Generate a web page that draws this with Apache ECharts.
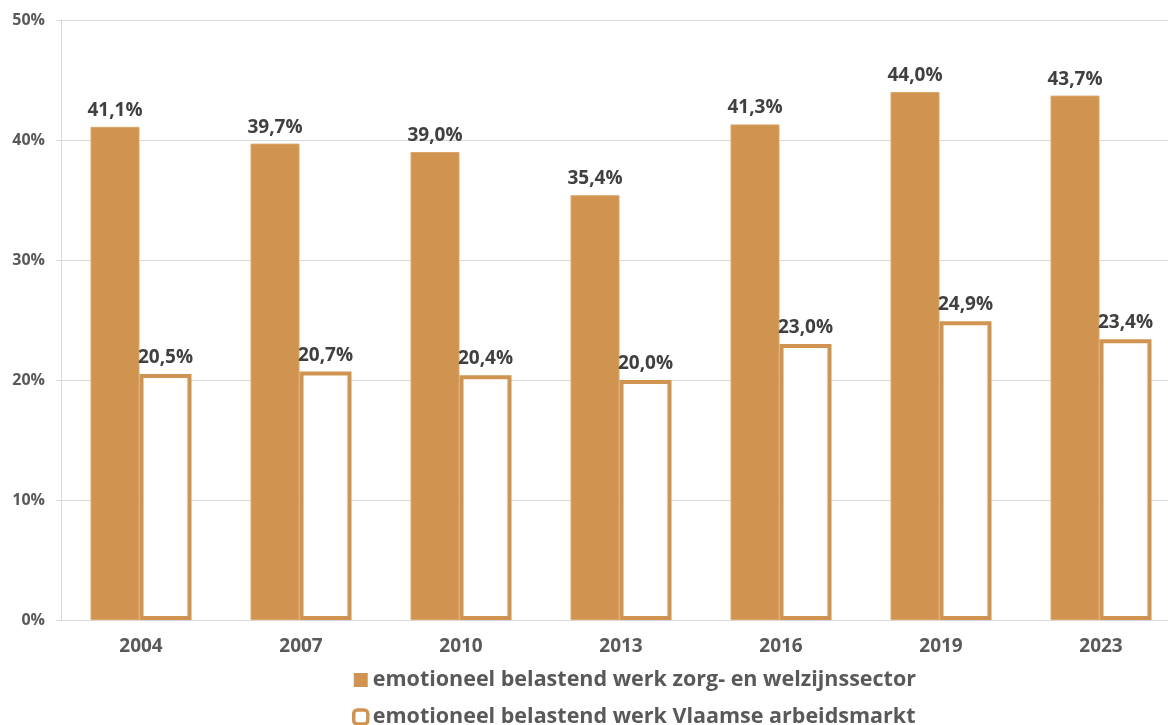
<!DOCTYPE html>
<html>
<head>
<meta charset="utf-8">
<script src="https://cdn.jsdelivr.net/npm/echarts@6/dist/echarts.min.js"></script>
<style>
html,body{margin:0;padding:0;background:#fff;overflow:hidden;width:1168px;height:725px;}
#chart{width:1200px;height:725px;}
</style>
</head>
<body>
<div id="chart"></div>
<script>
const categories = ['2004','2007','2010','2013','2016','2019','2023'];
const zorgWelzijn = [41.1, 39.7, 39.0, 35.4, 41.3, 44.0, 43.7];
const vlaamseArbeidsmarkt = [20.5, 20.7, 20.4, 20.0, 23.0, 24.9, 23.4];
const seriesNames = ['emotioneel belastend werk zorg- en welzijnssector', 'emotioneel belastend werk Vlaamse arbeidsmarkt'];

const fmt = p => p.value.toFixed(1).replace('.', ',') + '%';
const col = '#D19450';
const chart = echarts.init(document.getElementById('chart'));
chart.setOption({
  animation: false,
  textStyle: { fontFamily: 'Open Sans' },
  grid: { left: 61, right: 19, top: 20, height: 600, containLabel: false },
  legend: {
    orient: 'vertical',
    left: 347,
    top: 664,
    height: 120,
    itemGap: 15,
    itemWidth: 14,
    itemHeight: 14,
    textStyle: { fontSize: 21.5, fontWeight: 'bold', color: '#595959', fontFamily: 'Open Sans' },
    data: [
      { name: seriesNames[0], icon: 'rect', itemStyle: { color: col, borderWidth: 0 } },
      { name: seriesNames[1], icon: 'roundRect', itemStyle: { color: '#fff', borderColor: col, borderWidth: 3.5 } }
    ]
  },
  xAxis: {
    type: 'category',
    data: categories,
    axisLine: { lineStyle: { color: '#d9d9d9', width: 1 } },
    axisTick: { show: false },
    axisLabel: { fontSize: 19, fontWeight: 'bold', color: '#595959', margin: 17 }
  },
  yAxis: {
    type: 'value',
    min: 0, max: 50, interval: 10,
    axisLine: { show: true, lineStyle: { color: '#d9d9d9' } },
    axisTick: { show: true, length: 5, lineStyle: { color: '#d9d9d9' } },
    splitLine: { lineStyle: { color: '#d9d9d9' } },
    axisLabel: { formatter: '{value}%', fontSize: 16, fontWeight: 'bold', color: '#595959', margin: 16 }
  },
  series: [
    {
      name: seriesNames[0],
      type: 'bar',
      data: zorgWelzijn,
      barWidth: 49,
      barGap: '0%',
      itemStyle: { color: col, borderColor: '#DCA66A', borderWidth: 1 },
      label: { show: true, position: 'top', distance: 7, formatter: fmt, fontSize: 19, fontWeight: 'bold', color: '#404040' }
    },
    {
      name: seriesNames[1],
      type: 'bar',
      data: vlaamseArbeidsmarkt,
      barWidth: 52,
      itemStyle: { color: '#fff', borderColor: col, borderWidth: 4 },
      label: { show: true, position: 'top', distance: 7, formatter: fmt, fontSize: 19, fontWeight: 'bold', color: '#404040' }
    }
  ]
});
</script>
</body>
</html>
